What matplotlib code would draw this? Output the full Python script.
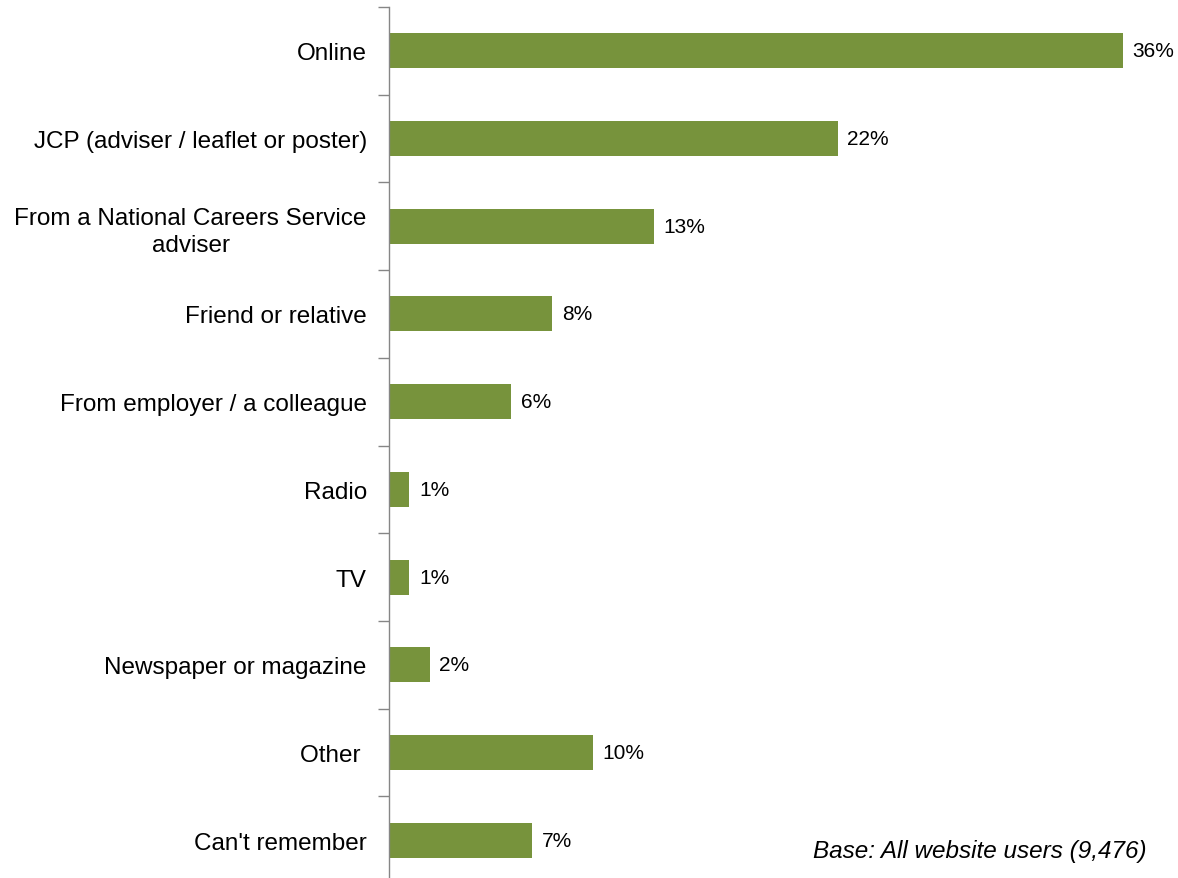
import matplotlib
matplotlib.use("Agg")
import matplotlib.pyplot as plt

# where website users heard about the service (% of users)
sources = ["Online", "JCP (adviser / leaflet or poster)",
           "From a National Careers Service\nadviser", "Friend or relative",
           "From employer / a colleague", "Radio", "TV",
           "Newspaper or magazine", "Other ", "Can't remember"]
shares = [36, 22, 13, 8, 6, 1, 1, 2, 10, 7]
value_labels = ["36%", "22%", "13%", "8%", "6%", "1%", "1%", "2%", "10%", "7%"]

plt.rcParams['font.family'] = ['Liberation Sans', 'DejaVu Sans']

W, H = 1178, 879
fig = plt.figure(figsize=(W / 100, H / 100), dpi=100)
# axes placed in pixel terms; the bottom edge runs just past the figure
left, top, band = 389, 8, 87.7
xmax = 40
px_per_unit = 734 / 36
ax = fig.add_axes([left / W, (H - top - band * len(sources)) / H,
                   xmax * px_per_unit / W, band * len(sources) / H])

pos = list(range(len(sources)))
bars = ax.barh(pos, shares, height=0.4, color="#77933C", edgecolor="none")
ax.set_xlim(0, xmax)
ax.set_ylim(len(sources) - 0.5, -0.5)

for rect, lab in zip(bars, value_labels):
    ax.annotate(lab, (rect.get_width(), rect.get_y() + rect.get_height() / 2),
                xytext=(7, 0), textcoords="offset points",
                ha="left", va="center", fontsize=15)

ax.set_yticks(pos)
ax.set_yticklabels(sources, fontsize=17.5, ha="right", multialignment="center",
                   linespacing=1.3)
ax.tick_params(axis="y", which="major", length=0, pad=16)
# boundary tick marks between categories
ax.set_yticks([p - 0.5 for p in pos] + [len(sources) - 0.5], minor=True)
ax.tick_params(axis="y", which="minor", length=8, width=1, color="#868686")
ax.set_xticks([])

for side in ["top", "right", "bottom"]:
    ax.spines[side].set_visible(False)
ax.spines["left"].set_color("#868686")
ax.spines["left"].set_linewidth(1)

fig.text(1147 / W, 1 - 852 / H, "Base: All website users (9,476)",
         fontsize=17.5, style="italic", ha="right", va="center")

fig.savefig("out.png", dpi=100)
